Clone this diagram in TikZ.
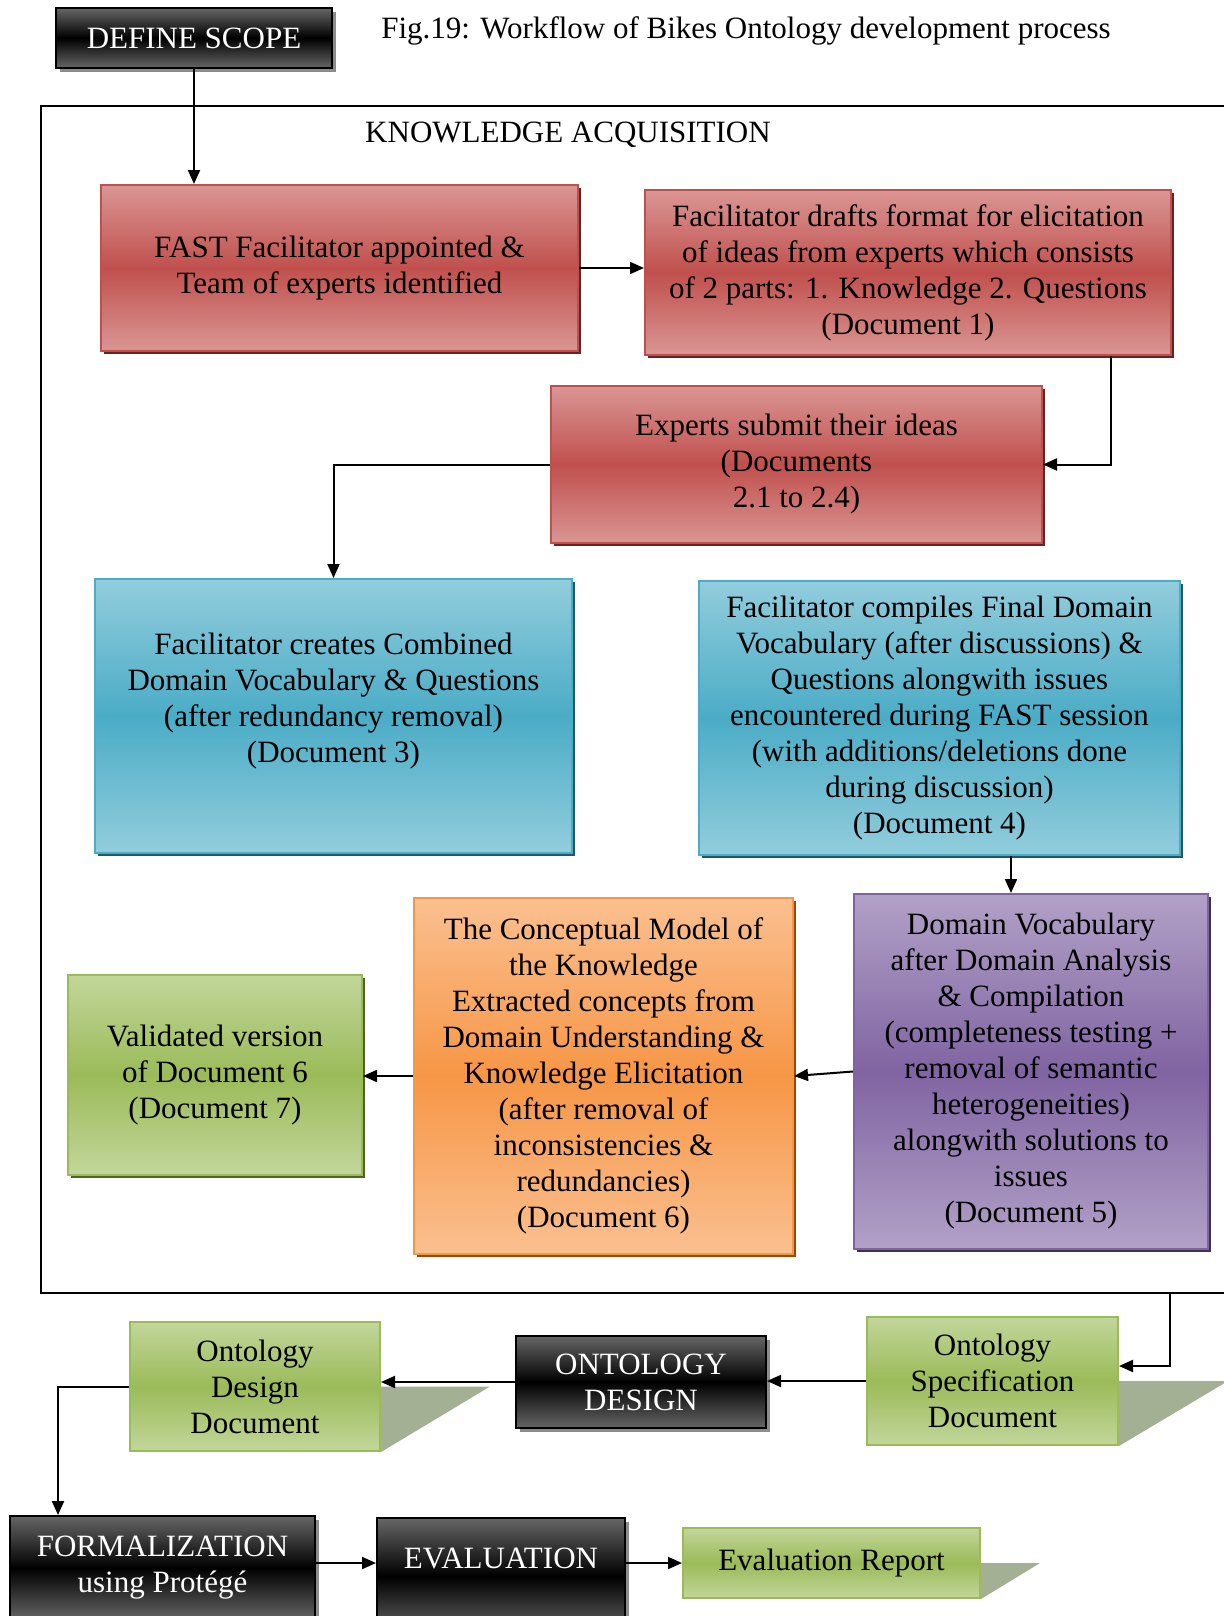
\documentclass[tikz,border=0pt]{standalone}
\usepackage{fontspec}
\setmainfont{Liberation Serif}
\usetikzlibrary{arrows.meta,shadows,backgrounds}

\definecolor{redtop}{HTML}{DA9694}
\definecolor{redmid}{HTML}{C0504D}
\definecolor{redshade}{HTML}{632523}
\definecolor{bluetop}{HTML}{92CDDC}
\definecolor{bluemid}{HTML}{4BACC6}
\definecolor{blueshade}{HTML}{205867}
\definecolor{purptop}{HTML}{B2A1C7}
\definecolor{purpmid}{HTML}{8064A2}
\definecolor{purpshade}{HTML}{3F3151}
\definecolor{orgtop}{HTML}{FAC090}
\definecolor{orgmid}{HTML}{F79646}
\definecolor{orgshade}{HTML}{984807}
\definecolor{grntop}{HTML}{C2D69B}
\definecolor{grnmid}{HTML}{9BBB59}
\definecolor{grnshade}{HTML}{4F6228}
\definecolor{flatshade}{HTML}{A4B094}
\definecolor{darktop}{HTML}{666666}

\tikzset{
  box/.style={rectangle, align=center, inner sep=2pt, line width=1pt,
    font=\fontsize{15.5}{18}\selectfont},
  redbox/.style={box, draw=redmid, top color=redtop, bottom color=redtop, middle color=redmid,
    drop shadow={shadow xshift=1.5pt, shadow yshift=-1.5pt, fill=redshade, opacity=1}},
  bluebox/.style={box, draw=bluemid, top color=bluetop, bottom color=bluetop, middle color=bluemid,
    drop shadow={shadow xshift=1.5pt, shadow yshift=-1.5pt, fill=blueshade, opacity=1}},
  purpbox/.style={box, draw=purpmid, top color=purptop, bottom color=purptop, middle color=purpmid,
    drop shadow={shadow xshift=1.5pt, shadow yshift=-1.5pt, fill=purpshade, opacity=1}},
  orgbox/.style={box, draw=orgmid, top color=orgtop, bottom color=orgtop, middle color=orgmid,
    drop shadow={shadow xshift=1.5pt, shadow yshift=-1.5pt, fill=orgshade, opacity=1}},
  grnbox/.style={box, draw=grnmid, top color=grntop, bottom color=grntop, middle color=grnmid},
  grnshadow/.style={drop shadow={shadow xshift=1.5pt, shadow yshift=-1.5pt, fill=grnshade, opacity=1}},
  darkbox/.style={box, draw=black, text=white, top color=darktop, bottom color=darktop, middle color=black,
    drop shadow={shadow xshift=2pt, shadow yshift=-2pt, fill=black!45, opacity=1}},
  arr/.style={line width=1pt, -{Triangle[length=7pt,width=6pt]}},
  plain/.style={font=\fontsize{15.5}{18}\selectfont}
}

\begin{document}
\begin{tikzpicture}[x=0.5pt,y=-0.5pt]
  \useasboundingbox (0,0) rectangle (1223,1616);

  \node[darkbox, minimum width=138pt, minimum height=30pt] (scope) at (194,38) {DEFINE SCOPE};
  \node[plain] (caption) at (746,31) {Fig.19: Workflow of Bikes Ontology development process};

  % knowledge acquisition frame
  \draw[line width=1pt] (1240,106) -- (41,106) -- (41,1293) -- (1240,1293);
  \coordinate (kaout) at (1170,1293);
  \node[plain] (katitle) at (568,135) {KNOWLEDGE ACQUISITION};

  \node[redbox, minimum width=238.5pt, minimum height=83pt] (fast) at (339.5,268)
    {FAST Facilitator appointed \&\\Team of experts identified};
  \node[redbox, minimum width=263pt, minimum height=82.5pt] (drafts) at (908,272.5)
    {Facilitator drafts format for elicitation\\of ideas from experts which consists\\of 2 parts: 1. Knowledge 2. Questions\\(Document 1)};
  \node[redbox, minimum width=245.5pt, minimum height=78.5pt] (submit) at (796.5,464.5)
    {Experts submit their ideas\\(Documents\\2.1 to 2.4)};
  \node[bluebox, minimum width=238.5pt, minimum height=137pt] (combined) at (333.5,716)
    {Facilitator creates Combined\\Domain Vocabulary \& Questions\\(after redundancy removal)\\(Document 3)\\\mbox{}};
  \node[bluebox, minimum width=240.5pt, minimum height=137pt] (final) at (939.5,718)
    {Facilitator compiles Final Domain\\Vocabulary (after discussions) \&\\Questions alongwith issues\\encountered during FAST session\\(with additions/deletions done\\during discussion)\\(Document 4)};
  \node[purpbox, minimum width=177pt, minimum height=177.5pt] (dva) at (1031,1071.5)
    {Domain Vocabulary\\after Domain Analysis\\\& Compilation\\(completeness testing +\\removal of semantic\\heterogeneities)\\alongwith solutions to\\issues\\(Document 5)};
  \node[orgbox, minimum width=189.5pt, minimum height=178pt] (model) at (603.5,1076)
    {The Conceptual Model of\\the Knowledge\\Extracted concepts from\\Domain Understanding \&\\Knowledge Elicitation\\(after removal of\\inconsistencies \&\\redundancies)\\(Document 6)};
  \node[grnbox, grnshadow, minimum width=147pt, minimum height=100pt] (valid) at (215,1075)
    {Validated version\\of Document 6\\(Document 7)};

  \node[grnbox, minimum width=125.5pt, minimum height=64pt] (spec) at (992.5,1381)
    {Ontology\\Specification\\Document};
  \node[darkbox, minimum width=125pt, minimum height=46pt] (odesign) at (641,1382)
    {ONTOLOGY\\DESIGN};
  \node[grnbox, minimum width=125pt, minimum height=64.5pt] (odd) at (255,1386.5)
    {Ontology\\Design\\Document};
  \node[darkbox, minimum width=152.5pt, minimum height=52pt] (formal) at (162.5,1568)
    {FORMALIZATION\\using Protégé};
  \node[darkbox, minimum width=124pt, minimum height=58pt] (evaluation) at (501,1576)
    {EVALUATION\\\mbox{}};
  \node[grnbox, minimum width=148.5pt, minimum height=35pt] (report) at (831.5,1563)
    {Evaluation Report};

  \begin{scope}[on background layer]
    \fill[white] (0,0) rectangle (1223,1616);
    \fill[flatshade] (spec.east) -- ++(109,0) -- (spec.south east) -- cycle;
    \fill[flatshade] (odd.east) -- ++(109,0) -- (odd.south east) -- cycle;
    \fill[flatshade] (report.east) -- ++(59,0) -- (report.south east) -- cycle;
  \end{scope}

  \draw[arr] (scope.south) -- (scope.south |- fast.north);
  \draw[arr] (fast.east) -- (fast.east -| drafts.west);
  \draw[arr] (1111,0 |- drafts.south) |- (submit.east);
  \draw[arr] (submit.west) -| (combined.north);
  \draw[arr] (1011,0 |- final.south) -- (1011,0 |- dva.north);
  \draw[arr] (dva.west) -- (model.east);
  \draw[arr] (model.west) -- (model.west -| valid.east);
  \draw[arr] (kaout) |- ([yshift=7.5pt]spec.east);
  \draw[arr] (spec.west) -- (spec.west -| odesign.east);
  \draw[arr] (odesign.west) -- (odesign.west -| odd.east);
  \draw[arr] (odd.west) -| ([xshift=24.5pt]formal.north west);
  \draw[arr] (formal.east |- report.west) -- (evaluation.west |- report.west);
  \draw[arr] (evaluation.east |- report.west) -- (report.west);
\end{tikzpicture}
\end{document}
